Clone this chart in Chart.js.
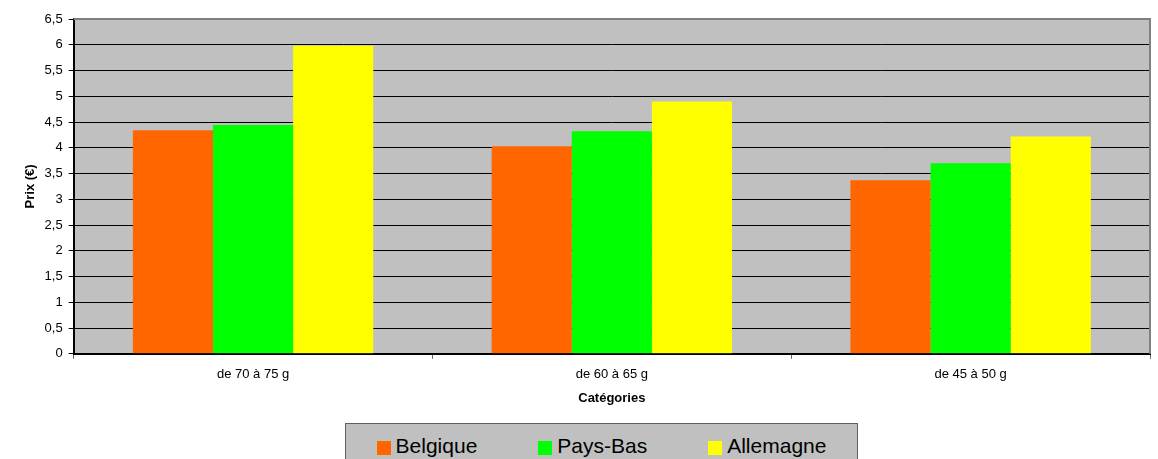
<!DOCTYPE html>
<html>
<head>
<meta charset="utf-8">
<script src="https://cdn.jsdelivr.net/npm/chart.js@4/dist/chart.umd.min.js"></script>
<style>
    body { margin: 0; background: #fff; overflow: hidden; }
    #wrap { position: relative; width: 1158px; height: 459px; }
    #legend {
        position: absolute; left: 345px; top: 423px; width: 511px; height: 50px;
        background: #c0c0c0; border: 1px solid #5f5f5f; border-bottom: none;
        display: flex; justify-content: center; gap: 61px;
        font-family: "Liberation Sans", Arial, sans-serif; font-size: 21px; color: #000;
    }
    .item { display: flex; align-items: center; height: 44px; margin-top: 0px; }
    .sw { width: 14px; height: 14px; margin-right: 5px; margin-top: 3px; }
</style>
</head>
<body>
<div id="wrap">
    <canvas id="c" width="1158" height="459"></canvas>
    <div id="legend"></div>
</div>
<script>
    const categories = ['de 70 à 75 g', 'de 60 à 65 g', 'de 45 à 50 g'];
    const belgique = [4.34, 4.03, 3.37];
    const paysBas = [4.44, 4.32, 3.70];
    const allemagne = [5.98, 4.90, 4.22];
    const yTickLabels = ['0', '0,5', '1', '1,5', '2', '2,5', '3', '3,5', '4', '4,5', '5', '5,5', '6', '6,5'];

    const seriesNames = ['Belgique', 'Pays-Bas', 'Allemagne'];
    const seriesColors = ['#ff6600', '#00ff00', '#ffff00'];

    const font = {family: '"Liberation Sans", Arial, sans-serif', size: 13};

    // grey plot area + grey top/right frame like the old excel look
    const plotFrame = {
        id: 'plotFrame',
        beforeDatasetsDraw(chart) {
            const a = chart.chartArea, ctx = chart.ctx;
            ctx.save();
            ctx.globalCompositeOperation = 'destination-over';
            ctx.fillStyle = '#c0c0c0';
            ctx.fillRect(a.left, a.top, a.right - a.left, a.bottom - a.top);
            ctx.restore();
        },
        afterDatasetsDraw(chart) {
            const a = chart.chartArea, ctx = chart.ctx;
            ctx.save();
            ctx.strokeStyle = '#808080';
            ctx.lineWidth = 2;
            ctx.beginPath();
            ctx.moveTo(a.left, a.top);
            ctx.lineTo(a.right, a.top);
            ctx.lineTo(a.right, a.bottom);
            ctx.stroke();
            ctx.restore();
        }
    };

    const datasets = [belgique, paysBas, allemagne].map((d, i) => ({
        label: seriesNames[i],
        data: d,
        backgroundColor: seriesColors[i],
        borderWidth: 0,
        categoryPercentage: 0.67,
        barPercentage: 1.0
    }));

    new Chart(document.getElementById('c'), {
        type: 'bar',
        data: {labels: categories, datasets: datasets},
        plugins: [plotFrame],
        options: {
            responsive: false,
            devicePixelRatio: 1,
            animation: false,
            layout: {padding: {left: 13, right: 8, top: 19, bottom: 49}},
            plugins: {legend: {display: false}, tooltip: {enabled: false}},
            scales: {
                x: {
                    offset: true,
                    grid: {offset: true, drawOnChartArea: false, tickLength: 5, color: '#666', lineWidth: 1},
                    border: {display: true, color: '#000', width: 2},
                    ticks: {color: '#000', font: font, padding: 8},
                    title: {display: true, text: 'Catégories', color: '#000',
                        font: {...font, weight: 'bold'}, padding: {top: 0, bottom: 4}}
                },
                y: {
                    min: 0, max: 6.5,
                    grid: {color: '#000', lineWidth: 1, tickLength: 5},
                    border: {display: true, color: '#000', width: 2},
                    ticks: {
                        stepSize: 0.5, color: '#000', font: font, padding: 6,
                        callback: (v, i) => yTickLabels[i]
                    },
                    title: {display: true, text: 'Prix (€)', color: '#000',
                        font: {...font, weight: 'bold'}, padding: {top: 10, bottom: 0}}
                }
            }
        }
    });

    const legend = document.getElementById('legend');
    seriesNames.forEach((n, i) => {
        const it = document.createElement('div');
        it.className = 'item';
        it.innerHTML = '<span class="sw" style="background:' + seriesColors[i] + '"></span>' + n;
        legend.appendChild(it);
    });
</script>
</body>
</html>
